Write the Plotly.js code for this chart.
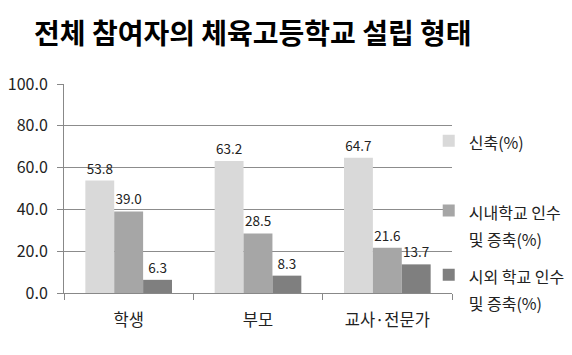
<!DOCTYPE html>
<html><head><meta charset="utf-8">
<script src="https://cdn.plot.ly/plotly-3.0.1.min.js"></script>
<style>html,body{margin:0;padding:0;background:#fff}#c{width:572px;height:355px}</style>
</head><body><div id="c"></div>
<script>
const categories = ['학생', '부모', '교사·전문가'];
const seriesNames = [['신축(%)'], ['시내학교 인수', '및 증축(%)'], ['시외 학교 인수', '및 증축(%)']];
const newBuild = [53.8, 63.2, 64.7];
const inCity = [39.0, 28.5, 21.6];
const outCity = [6.3, 8.3, 13.7];
const yTicks = [0, 20, 40, 60, 80, 100];

const colors = ['#d9d9d9', '#a6a6a6', '#7f7f7f'];
const font = '"Noto Sans CJK KR", "Noto Sans", sans-serif';
const legendIds = ['legend', 'legend2', 'legend3'];
const legendY = [0.824, 0.49, 0.183];
const label = lines => lines.map(s => '<span style="font-size:16px">' + s + '</span>').join('<br>');
const data = [newBuild, inCity, outCity].map((vals, i) => ({
  type: 'bar', x: categories, y: vals, name: label(seriesNames[i]),
  marker: {color: colors[i]},
  text: vals.map(v => v.toFixed(1)), textposition: 'outside', cliponaxis: false,
  textfont: {family: font, size: 13.5, color: '#222'},
  legend: legendIds[i]
}));

const layout = {
  width: 572, height: 355,
  margin: {l: 64, r: 120, t: 84, b: 62, autoexpand: false},
  paper_bgcolor: '#fff', plot_bgcolor: '#fff',
  title: {text: '<b>전체 참여자의 체육고등학교 설립 형태</b>', x: 0.442, xanchor: 'center', y: 0.905, yanchor: 'middle',
    font: {family: font, size: 28, color: '#000'}},
  barmode: 'group', bargap: 0.33, bargroupgap: 0,
  showlegend: true,
  xaxis: {type: 'category', showline: true, linecolor: '#888', linewidth: 1,
    ticks: 'outside', tickson: 'boundaries', ticklen: 6, tickcolor: '#888',
    ticklabelstandoff: 12,
    tickfont: {family: font, size: 16.5, color: '#222'}},
  yaxis: {range: [0, 100], tickvals: yTicks, tickformat: '.1f', showgrid: true, gridcolor: '#8c8c8c',
    showline: true, linecolor: '#888', ticks: 'outside', ticklen: 6, tickcolor: '#888',
    ticklabelstandoff: 6, zeroline: false,
    tickfont: {family: font, size: 16, color: '#222'}}
};
legendIds.forEach((id, i) => {
  layout[id] = {x: 0.94, xanchor: 'left', y: legendY[i], yanchor: 'top', valign: 'top',
    bgcolor: 'rgba(0,0,0,0)', font: {family: font, size: 20.8, color: '#222'}, itemwidth: 30};
});
Plotly.newPlot('c', data, layout, {displayModeBar: false, staticPlot: true});
</script></body></html>
